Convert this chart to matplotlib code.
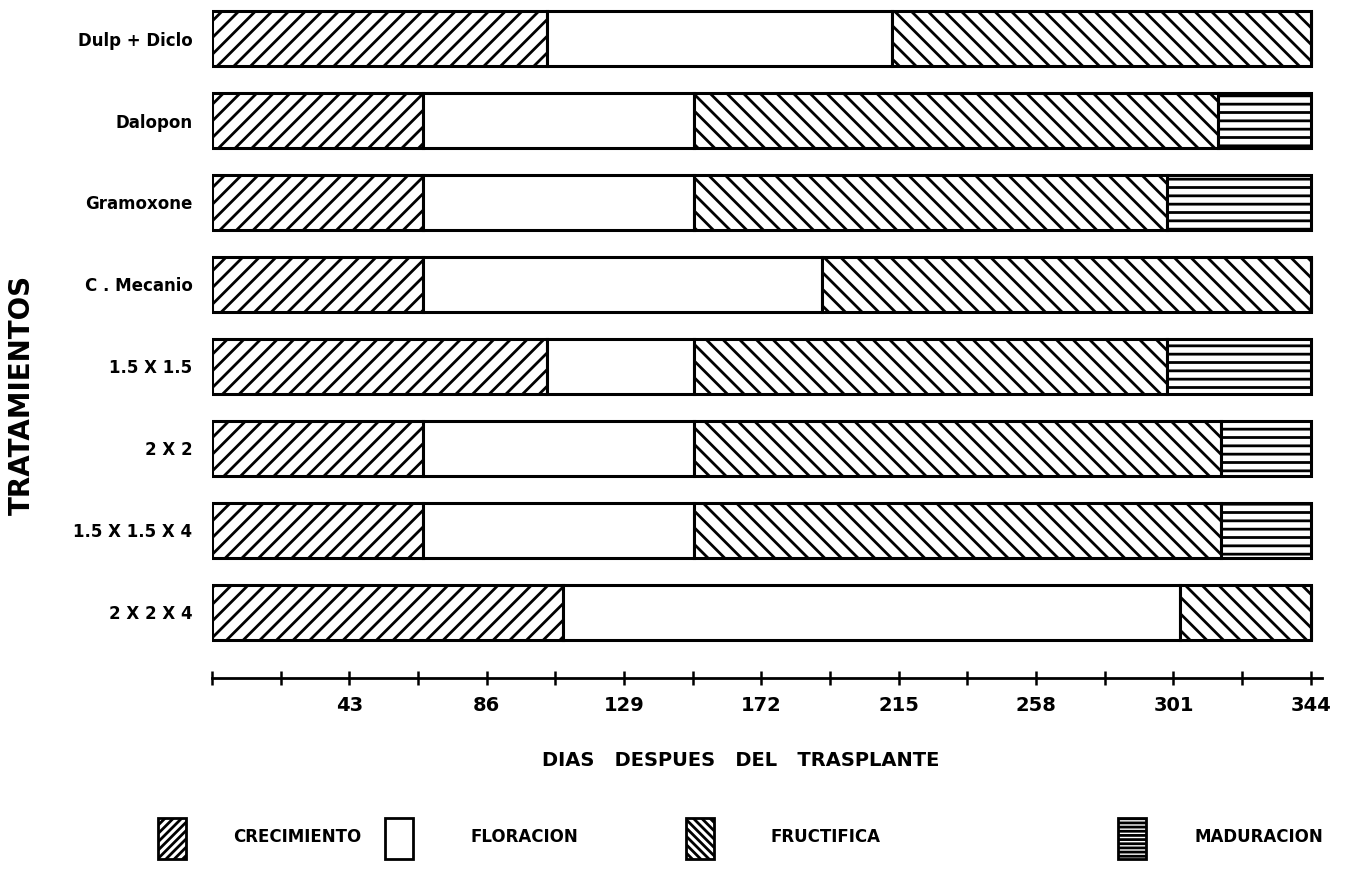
import numpy as np
import matplotlib
matplotlib.use("Agg")
import matplotlib.pyplot as plt
from matplotlib.patches import Rectangle

# treatments, top to bottom
tratamientos = ["Dulp + Diclo", "Dalopon", "Gramoxone", "C . Mecanio",
                "1.5 X 1.5", "2 X 2", "1.5 X 1.5 X 4", "2 X 2 X 4"]

# day on which each phase ends (days after transplant)
fin_crecimiento = [105, 66, 66, 66, 105, 66, 66, 110]
fin_floracion = [213, 151, 151, 191, 151, 151, 151, 303]
fin_fructifica = [344, 315, 299, 344, 299, 316, 316, 344]
fin_maduracion = [344, 344, 344, 344, 344, 344, 344, 344]

fases = ["CRECIMIENTO", "FLORACION", "FRUCTIFICA", "MADURACION"]
tramas = ["//", "", "\\\\", "--"]
tramas_leyenda = ["////", "", "\\\\\\\\", "----"]

xticks = np.arange(0, 344.1, 21.5)

plt.rcParams["hatch.linewidth"] = 2.0
plt.rcParams["font.family"] = "DejaVu Sans"

W, H = 1350, 869
fig = plt.figure(figsize=(W / 100, H / 100), dpi=100)
ax = fig.add_axes([212 / W, 1 - 678 / H, 1110 / W, 678 / H])

filas = np.arange(len(tratamientos))
inicio = np.zeros(len(tratamientos))
for fin, trama in zip([fin_crecimiento, fin_floracion, fin_fructifica, fin_maduracion], tramas):
    fin = np.array(fin, dtype=float)
    ax.barh(filas, fin - inicio, left=inicio, height=0.67, color="white",
            edgecolor="black", linewidth=2.2, hatch=trama)
    inicio = fin

ax.set_ylim(7.8, -0.47)
ax.set_xlim(0, 347.5)
ax.set_yticks(filas)
ax.set_yticklabels(tratamientos, fontsize=12, fontweight="bold")
ax.tick_params(axis="y", length=0, pad=14)

for s in ["top", "right", "left"]:
    ax.spines[s].set_visible(False)
ax.spines["bottom"].set_linewidth(2)

ax.set_xticks(xticks)
ax.set_xticklabels([str(int(t)) if (t % 43 == 0 and t > 0) else "" for t in xticks],
                   fontsize=14, fontweight="bold")
ax.tick_params(axis="x", direction="inout", length=10, width=1.8, pad=8)

fig.text(741 / W, 1 - 760 / H, "DIAS   DESPUES   DEL   TRASPLANTE",
         ha="center", va="center", fontsize=14, fontweight="bold")
fig.text(22 / W, 1 - 395 / H, "TRATAMIENTOS", rotation=90,
         ha="center", va="center", fontsize=20, fontweight="bold")

# legend
caja_x = [158, 385, 686, 1118]
texto_x = [233, 470, 770, 1195]
for bx, tx, fase, trama in zip(caja_x, texto_x, fases, tramas_leyenda):
    fig.add_artist(Rectangle((bx / W, 1 - 859 / H), 28 / W, 41 / H,
                             transform=fig.transFigure, facecolor="white",
                             edgecolor="black", linewidth=2, hatch=trama))
    fig.text(tx / W, 1 - 837 / H, fase, ha="left", va="center",
             fontsize=12, fontweight="bold")

fig.savefig("out.png", dpi=100)
